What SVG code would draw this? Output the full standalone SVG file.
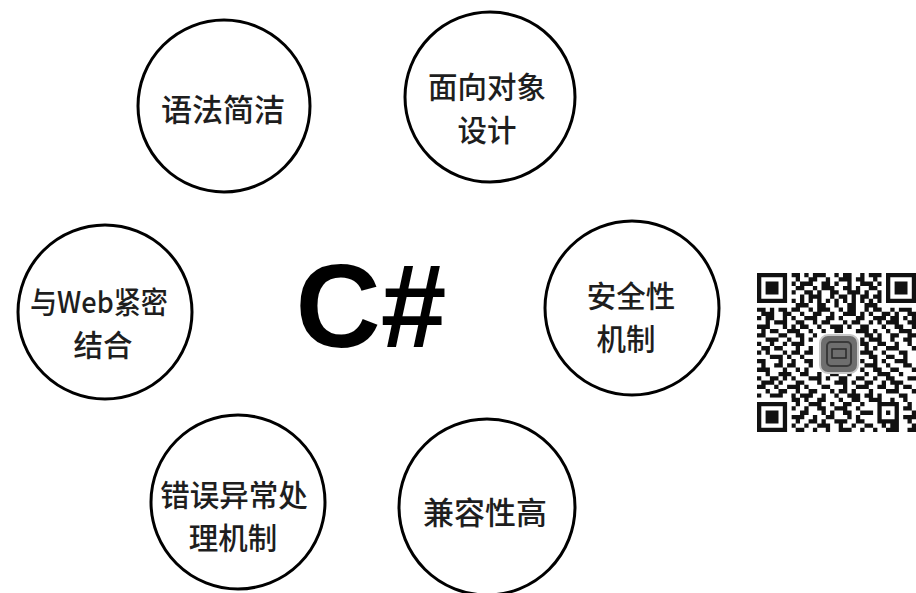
<svg xmlns="http://www.w3.org/2000/svg" width="916" height="593" viewBox="0 0 916 593">
<style>
.node circle{fill:#fff;stroke:#000;stroke-width:3}
.lbl{font-family:"Noto Sans CJK SC","Noto Sans",sans-serif;font-size:31px;fill:#1e1e1e;text-anchor:middle;dominant-baseline:central;font-weight:500}
.two{font-size:29.5px}
.title{font-family:"Liberation Sans",Arial,sans-serif;font-weight:bold;font-size:118px;fill:#000;text-anchor:middle}
</style>
<rect width="916" height="593" fill="#fff"/>
<g id="connectors"></g>
<g id="n1" class="node"><circle cx="224" cy="106" r="86"/><text class="lbl" x="223" y="107">语法简洁</text></g>
<g id="n2" class="node"><circle cx="490" cy="97" r="85"/><text class="lbl two" x="487" y="85">面向对象<tspan x="487" dy="43">设计</tspan></text></g>
<g id="n3" class="node"><circle cx="105" cy="312" r="87"/><text class="lbl two" y="300"><tspan x="99" textLength="138" lengthAdjust="spacingAndGlyphs">与Web紧密</tspan><tspan x="103" dy="43">结合</tspan></text></g>
<g id="n4" class="node"><circle cx="632" cy="308" r="87"/><text class="lbl two" x="631" y="294">安全性<tspan x="626" dy="43">机制</tspan></text></g>
<g id="n5" class="node"><circle cx="238" cy="502" r="87"/><text class="lbl two" x="234" y="493">错误异常处<tspan x="233" dy="43">理机制</tspan></text></g>
<g id="n6" class="node"><circle cx="487" cy="507" r="88"/><text class="lbl" x="485" y="510">兼容性高</text></g>
<g id="center"><text class="title" x="371" y="347">C#</text></g>
<g id="qr">
<g transform="translate(757,273) scale(4.3)">
<path fill="#111" d="M8 0h2v1h-2zM11 0h1v1h-1zM13 0h3v1h-3zM18 0h1v1h-1zM20 0h2v1h-2zM24 0h1v1h-1zM26 0h3v1h-3z
M9 1h1v1h-1zM12 1h2v1h-2zM16 1h1v1h-1zM19 1h3v1h-3zM23 1h2v1h-2zM27 1h1v1h-1z
M8 2h1v1h-1zM10 2h3v1h-3zM15 2h2v1h-2zM18 2h1v1h-1zM21 2h1v1h-1zM24 2h3v1h-3zM28 2h1v1h-1z
M9 3h2v1h-2zM13 3h1v1h-1zM15 3h3v1h-3zM20 3h2v1h-2zM23 3h1v1h-1zM26 3h2v1h-2z
M8 4h1v1h-1zM11 4h2v1h-2zM14 4h1v1h-1zM17 4h2v1h-2zM21 4h3v1h-3zM25 4h1v1h-1zM28 4h1v1h-1z
M10 5h1v1h-1zM12 5h3v1h-3zM17 5h1v1h-1zM19 5h2v1h-2zM22 5h1v1h-1zM24 5h2v1h-2zM27 5h2v1h-2z
M8 6h1v1h-1zM10 6h1v1h-1zM12 6h1v1h-1zM14 6h1v1h-1zM16 6h1v1h-1zM18 6h1v1h-1zM20 6h1v1h-1zM22 6h1v1h-1zM24 6h1v1h-1zM26 6h1v1h-1zM28 6h1v1h-1z
M9 7h3v1h-3zM14 7h2v1h-2zM18 7h1v1h-1zM21 7h2v1h-2zM25 7h3v1h-3z
M0 8h2v1h-2zM3 8h1v1h-1zM5 8h2v1h-2zM8 8h2v1h-2zM12 8h1v1h-1zM14 8h3v1h-3zM19 8h1v1h-1zM21 8h2v1h-2zM25 8h1v1h-1zM27 8h2v1h-2zM31 8h1v1h-1zM33 8h3v1h-3z
M1 9h3v1h-3zM6 9h2v1h-2zM10 9h1v1h-1zM13 9h2v1h-2zM17 9h1v1h-1zM20 9h3v1h-3zM24 9h1v1h-1zM26 9h1v1h-1zM29 9h2v1h-2zM32 9h1v1h-1zM35 9h2v1h-2z
M0 10h1v1h-1zM2 10h2v1h-2zM6 10h1v1h-1zM8 10h1v1h-1zM11 10h3v1h-3zM16 10h2v1h-2zM19 10h1v1h-1zM23 10h2v1h-2zM27 10h3v1h-3zM31 10h2v1h-2zM34 10h1v1h-1zM36 10h1v1h-1z
M2 11h1v1h-1zM4 11h3v1h-3zM9 11h2v1h-2zM13 11h1v1h-1zM15 11h2v1h-2zM20 11h1v1h-1zM22 11h2v1h-2zM26 11h1v1h-1zM28 11h1v1h-1zM30 11h3v1h-3zM35 11h2v1h-2z
M0 12h3v1h-3zM6 12h1v1h-1zM8 12h1v1h-1zM10 12h2v1h-2zM14 12h1v1h-1zM17 12h3v1h-3zM21 12h1v1h-1zM24 12h2v1h-2zM29 12h1v1h-1zM32 12h2v1h-2zM36 12h1v1h-1z
M1 13h1v1h-1zM3 13h2v1h-2zM7 13h3v1h-3zM12 13h1v1h-1zM15 13h1v1h-1zM18 13h2v1h-2zM23 13h3v1h-3zM27 13h1v1h-1zM30 13h1v1h-1zM33 13h3v1h-3z
M0 14h2v1h-2zM5 14h2v1h-2zM9 14h2v1h-2zM13 14h1v1h-1zM25 14h2v1h-2zM28 14h1v1h-1zM31 14h2v1h-2zM35 14h2v1h-2z
M2 15h3v1h-3zM7 15h1v1h-1zM10 15h1v1h-1zM12 15h1v1h-1zM24 15h1v1h-1zM26 15h3v1h-3zM31 15h1v1h-1zM34 15h2v1h-2z
M0 16h1v1h-1zM3 16h1v1h-1zM6 16h1v1h-1zM8 16h3v1h-3zM24 16h2v1h-2zM28 16h2v1h-2zM32 16h1v1h-1zM35 16h1v1h-1z
M1 17h2v1h-2zM4 17h2v1h-2zM9 17h1v1h-1zM12 17h1v1h-1zM25 17h1v1h-1zM27 17h1v1h-1zM30 17h3v1h-3zM36 17h1v1h-1z
M0 18h1v1h-1zM2 18h1v1h-1zM6 18h1v1h-1zM8 18h2v1h-2zM11 18h2v1h-2zM24 18h3v1h-3zM29 18h1v1h-1zM33 18h2v1h-2z
M3 19h3v1h-3zM7 19h1v1h-1zM10 19h1v1h-1zM26 19h2v1h-2zM30 19h2v1h-2zM34 19h1v1h-1z
M0 20h2v1h-2zM5 20h1v1h-1zM8 20h1v1h-1zM11 20h2v1h-2zM24 20h1v1h-1zM27 20h1v1h-1zM29 20h1v1h-1zM32 20h3v1h-3z
M1 21h1v1h-1zM4 21h2v1h-2zM7 21h2v1h-2zM12 21h1v1h-1zM25 21h3v1h-3zM30 21h1v1h-1zM34 21h2v1h-2z
M0 22h3v1h-3zM6 22h1v1h-1zM9 22h1v1h-1zM11 22h1v1h-1zM24 22h1v1h-1zM27 22h2v1h-2zM31 22h2v1h-2zM36 22h1v1h-1z
M2 23h1v1h-1zM5 23h3v1h-3zM10 23h2v1h-2zM14 23h1v1h-1zM17 23h2v1h-2zM21 23h1v1h-1zM25 23h1v1h-1zM28 23h3v1h-3zM33 23h1v1h-1z
M0 24h1v1h-1zM3 24h2v1h-2zM6 24h1v1h-1zM8 24h1v1h-1zM12 24h3v1h-3zM16 24h1v1h-1zM19 24h2v1h-2zM23 24h2v1h-2zM27 24h1v1h-1zM30 24h2v1h-2zM35 24h2v1h-2z
M1 25h3v1h-3zM5 25h1v1h-1zM9 25h2v1h-2zM14 25h1v1h-1zM18 25h3v1h-3zM22 25h1v1h-1zM25 25h2v1h-2zM29 25h1v1h-1zM31 25h3v1h-3z
M0 26h2v1h-2zM4 26h1v1h-1zM7 26h3v1h-3zM11 26h1v1h-1zM15 26h2v1h-2zM20 26h1v1h-1zM23 26h3v1h-3zM28 26h2v1h-2zM32 26h1v1h-1zM34 26h2v1h-2z
M2 27h1v1h-1zM5 27h2v1h-2zM9 27h1v1h-1zM12 27h2v1h-2zM17 27h1v1h-1zM19 27h2v1h-2zM22 27h1v1h-1zM26 27h1v1h-1zM30 27h3v1h-3zM36 27h1v1h-1z
M0 28h1v1h-1zM3 28h3v1h-3zM8 28h1v1h-1zM10 28h3v1h-3zM15 28h1v1h-1zM18 28h1v1h-1zM21 28h3v1h-3zM25 28h2v1h-2zM28 28h1v1h-1zM33 28h2v1h-2z
M8 29h2v1h-2zM11 29h1v1h-1zM14 29h2v1h-2zM19 29h1v1h-1zM22 29h2v1h-2zM26 29h3v1h-3zM31 29h1v1h-1zM34 29h1v1h-1z
M9 30h1v1h-1zM12 30h3v1h-3zM17 30h1v1h-1zM20 30h2v1h-2zM24 30h1v1h-1zM28 30h5v1h-5zM35 30h1v1h-1z
M8 31h1v1h-1zM11 31h1v1h-1zM14 31h2v1h-2zM18 31h3v1h-3zM23 31h1v1h-1zM28 31h1v1h-1zM32 31h1v1h-1zM34 31h2v1h-2z
M10 32h2v1h-2zM15 32h1v1h-1zM17 32h1v1h-1zM20 32h2v1h-2zM24 32h3v1h-3zM28 32h1v1h-1zM30 32h1v1h-1zM32 32h1v1h-1zM36 32h1v1h-1z
M8 33h3v1h-3zM13 33h1v1h-1zM16 33h2v1h-2zM21 33h1v1h-1zM23 33h1v1h-1zM28 33h1v1h-1zM32 33h1v1h-1zM34 33h3v1h-3z
M9 34h1v1h-1zM12 34h2v1h-2zM15 34h1v1h-1zM18 34h3v1h-3zM23 34h2v1h-2zM28 34h5v1h-5zM35 34h1v1h-1z
M8 35h1v1h-1zM11 35h1v1h-1zM14 35h3v1h-3zM19 35h1v1h-1zM22 35h1v1h-1zM25 35h2v1h-2zM29 35h1v1h-1zM31 35h2v1h-2zM36 35h1v1h-1z
M9 36h2v1h-2zM13 36h1v1h-1zM16 36h1v1h-1zM19 36h3v1h-3zM24 36h1v1h-1zM27 36h1v1h-1zM30 36h3v1h-3zM35 36h2v1h-2z"/>
<path fill="#fff" d="M0 0h8v8h-8zM29 0h8v8h-8zM0 29h8v8h-8zM14 14h9v9h-9z"/>
<path fill="#111" fill-rule="evenodd" d="M0 0h7v7h-7zM1 1h5v5h-5zM2 2h3v3h-3zM30 0h7v7h-7zM31 1h5v5h-5zM32 2h3v3h-3zM0 30h7v7h-7zM1 31h5v5h-5zM2 32h3v3h-3z"/>
</g>
<rect x="820" y="335" width="38" height="38" rx="8" fill="#6e6e6e" stroke="#c8c8c8" stroke-width="2"/>
<rect x="827" y="342" width="24" height="24" rx="4" fill="none" stroke="#3a3a3a" stroke-width="2"/>
<rect x="832" y="349" width="14" height="9" fill="none" stroke="#2a2a2a" stroke-width="1.5"/>
</g>
</svg>
